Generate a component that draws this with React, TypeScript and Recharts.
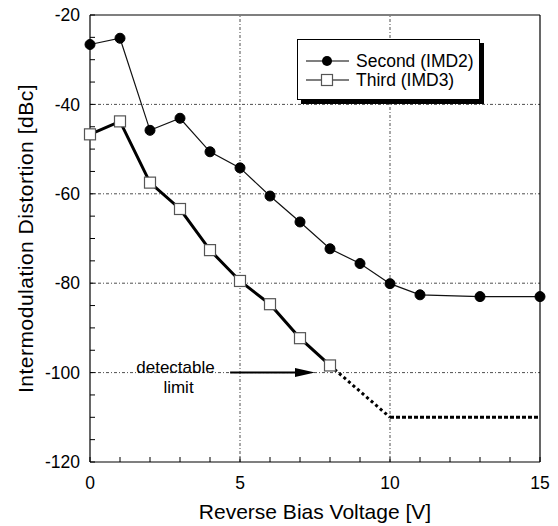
import { Legend, Line, LineChart, ReferenceDot, ReferenceLine, XAxis, YAxis } from "recharts";

const voltsIMD2 = [0, 1, 2, 3, 4, 5, 6, 7, 8, 9, 10, 11, 13, 15];
const imd2 = [-26.6, -25.2, -45.8, -43.1, -50.6, -54.2, -60.5, -66.3, -72.3, -75.6, -80.1, -82.6, -83, -83];

const voltsIMD3 = [0, 1, 2, 3, 4, 5, 6, 7, 8];
const imd3 = [-46.7, -43.8, -57.5, -63.4, -72.6, -79.5, -84.7, -92.3, -98.4];

// extrapolation below the detectable limit
const limitVolts = [8, 10];
const limitDb = [-98.4, -110];
const floorVolts = [10, 15];
const floorDb = [-110, -110];

const xTicks = [0, 1, 2, 3, 4, 5, 6, 7, 8, 9, 10, 11, 12, 13, 14, 15];
const xLabels = [0, 5, 10, 15];
const yTicks = [-120, -115, -110, -105, -100, -95, -90, -85, -80, -75, -70, -65, -60, -55, -50, -45, -40, -35, -30, -25, -20];
const yLabels = [-120, -100, -80, -60, -40, -20];
const gridX = [5, 10];
const gridY = [-40, -60, -80, -100];

const seriesNames = ["Second (IMD2)", "Third (IMD3)"];
const noteLines = ["detectable", "limit"];
const arrowFromV = 4.67;
const arrowToV = 7.5;
const arrowDb = -100;
const noteV = 2.85;

const FONT = '"Liberation Sans", Arial, Helvetica, sans-serif';

const toRows = (xs: number[], ys: number[]) => xs.map((x, i) => ({ x, y: ys[i] }));

const renderSquare = (p: any) => (
  <rect
    key={`sq-${p.index}`}
    x={p.cx - 5.5}
    y={p.cy - 5.5}
    width={11}
    height={11}
    fill="#fff"
    stroke="#555"
    strokeWidth={1.2}
  />
);

const gridStyle = { stroke: "#222", strokeWidth: 0.8, strokeDasharray: "3 2 1 2" };
const axisStroke = { stroke: "#000", strokeWidth: 1.2 };

function LegendBox() {
  return (
    <svg width={188} height={66} style={{ display: "block" }}>
      <rect x={4} y={4} width={183} height={61} fill="#000" />
      <rect x={0.5} y={0.5} width={182} height={60} fill="#fff" stroke="#000" strokeWidth={1} />
      <line x1={9} x2={52} y1={22} y2={22} stroke="#000" strokeWidth={1.2} />
      <circle cx={30} cy={22} r={5} fill="#000" />
      <text x={59} y={28} fontSize={17.5} fontFamily={FONT} fill="#000">
        {seriesNames[0]}
      </text>
      <line x1={9} x2={52} y1={41} y2={41} stroke="#000" strokeWidth={1.2} />
      <rect x={24.5} y={35.5} width={11} height={11} fill="#fff" stroke="#555" strokeWidth={1.2} />
      <text x={59} y={47} fontSize={17.5} fontFamily={FONT} fill="#000">
        {seriesNames[1]}
      </text>
    </svg>
  );
}

export default function App() {
  return (
    <div style={{ position: "absolute", left: 0, top: 0, width: 558, height: 526, background: "#fff" }}>
      <LineChart width={558} height={526} margin={{ top: 14, right: 17, bottom: 0, left: 0 }}>
        <XAxis
          xAxisId="b"
          dataKey="x"
          type="number"
          domain={[0, 15]}
          ticks={xTicks}
          interval={0}
          tickSize={-5}
          tickMargin={20}
          height={64}
          axisLine={axisStroke}
          tickLine={{ stroke: "#000" }}
          tick={{ fill: "#000", fontSize: 17.5, fontFamily: FONT }}
          tickFormatter={(v: number) => (xLabels.includes(v) ? String(v) : "")}
          label={{
            content: (p: any) => (
              <text
                x={p.viewBox.x + p.viewBox.width / 2}
                y={p.viewBox.y + 57}
                textAnchor="middle"
                fontSize={21}
                fontFamily={FONT}
                fill="#000"
              >
                Reverse Bias Voltage [V]
              </text>
            ),
          }}
        />
        <XAxis
          xAxisId="t"
          dataKey="x"
          orientation="top"
          type="number"
          domain={[0, 15]}
          ticks={xTicks}
          interval={0}
          tickSize={-5}
          height={1}
          axisLine={axisStroke}
          tickLine={{ stroke: "#000" }}
          tick={false}
        />
        <YAxis
          yAxisId="l"
          type="number"
          domain={[-120, -20]}
          ticks={yTicks}
          interval={0}
          tickSize={-5}
          tickMargin={15}
          width={90}
          axisLine={axisStroke}
          tickLine={{ stroke: "#000" }}
          tick={{ fill: "#000", fontSize: 17.5, fontFamily: FONT }}
          tickFormatter={(v: number) => (yLabels.includes(v) ? String(v) : "")}
          label={{
            content: (p: any) => {
              const cx = p.viewBox.x + 25;
              const cy = p.viewBox.y + p.viewBox.height / 2;
              return (
                <text
                  x={cx}
                  y={cy}
                  transform={`rotate(-90, ${cx}, ${cy})`}
                  textAnchor="middle"
                  dominantBaseline="central"
                  fontSize={21}
                  letterSpacing={0.5}
                  fontFamily={FONT}
                  fill="#000"
                >
                  Intermodulation Distortion [dBc]
                </text>
              );
            },
          }}
        />
        <YAxis
          yAxisId="r"
          orientation="right"
          type="number"
          domain={[-120, -20]}
          ticks={yTicks}
          interval={0}
          tickSize={-5}
          width={1}
          axisLine={axisStroke}
          tickLine={{ stroke: "#000" }}
          tick={false}
        />

        {gridX.map((v) => (
          <ReferenceLine key={`gx-${v}`} xAxisId="b" yAxisId="l" x={v} {...gridStyle} />
        ))}
        {gridY.map((v) => (
          <ReferenceLine key={`gy-${v}`} xAxisId="b" yAxisId="l" y={v} {...gridStyle} />
        ))}

        {/* hidden series so the top / right frame axes get a domain */}
        <Line
          xAxisId="t"
          yAxisId="r"
          data={toRows(voltsIMD2, imd2)}
          dataKey="y"
          stroke="none"
          dot={false}
          legendType="none"
          isAnimationActive={false}
        />

        <Line
          xAxisId="b"
          yAxisId="l"
          data={toRows(limitVolts, limitDb)}
          dataKey="y"
          stroke="#000"
          strokeWidth={3}
          strokeDasharray="3 3"
          dot={false}
          legendType="none"
          isAnimationActive={false}
        />
        <Line
          xAxisId="b"
          yAxisId="l"
          data={toRows(floorVolts, floorDb)}
          dataKey="y"
          stroke="#000"
          strokeWidth={3}
          strokeDasharray="4 2"
          dot={false}
          legendType="none"
          isAnimationActive={false}
        />
        <Line
          xAxisId="b"
          yAxisId="l"
          name={seriesNames[0]}
          data={toRows(voltsIMD2, imd2)}
          dataKey="y"
          stroke="#111"
          strokeWidth={1.2}
          dot={{ r: 5, fill: "#000", stroke: "#000", strokeWidth: 1 }}
          isAnimationActive={false}
        />
        <Line
          xAxisId="b"
          yAxisId="l"
          name={seriesNames[1]}
          data={toRows(voltsIMD3, imd3)}
          dataKey="y"
          stroke="#000"
          strokeWidth={3}
          dot={renderSquare}
          isAnimationActive={false}
        />

        <ReferenceLine
          xAxisId="b"
          yAxisId="l"
          segment={[
            { x: arrowFromV, y: arrowDb },
            { x: arrowToV, y: arrowDb },
          ]}
          shape={(p: any) => (
            <g>
              <line x1={p.x1} y1={p.y1} x2={p.x2 - 15} y2={p.y2} stroke="#000" strokeWidth={2} />
              <polygon points={`${p.x2},${p.y2} ${p.x2 - 20},${p.y2 - 4.5} ${p.x2 - 20},${p.y2 + 4.5}`} fill="#000" />
            </g>
          )}
        />
        <ReferenceDot
          xAxisId="b"
          yAxisId="l"
          x={noteV}
          y={arrowDb}
          shape={(p: any) => (
            <g>
              <text x={p.cx} y={p.cy} textAnchor="middle" fontSize={17} fontFamily={FONT} fill="#000">
                {noteLines[0]}
              </text>
              <text x={p.cx + 3} y={p.cy + 20} textAnchor="middle" fontSize={17} fontFamily={FONT} fill="#000">
                {noteLines[1]}
              </text>
            </g>
          )}
        />

        <Legend
          layout="horizontal"
          verticalAlign="middle"
          align="center"
          content={() => <LegendBox />}
          wrapperStyle={{ left: 297, top: 39, width: 188, height: 66 }}
        />
      </LineChart>
    </div>
  );
}
